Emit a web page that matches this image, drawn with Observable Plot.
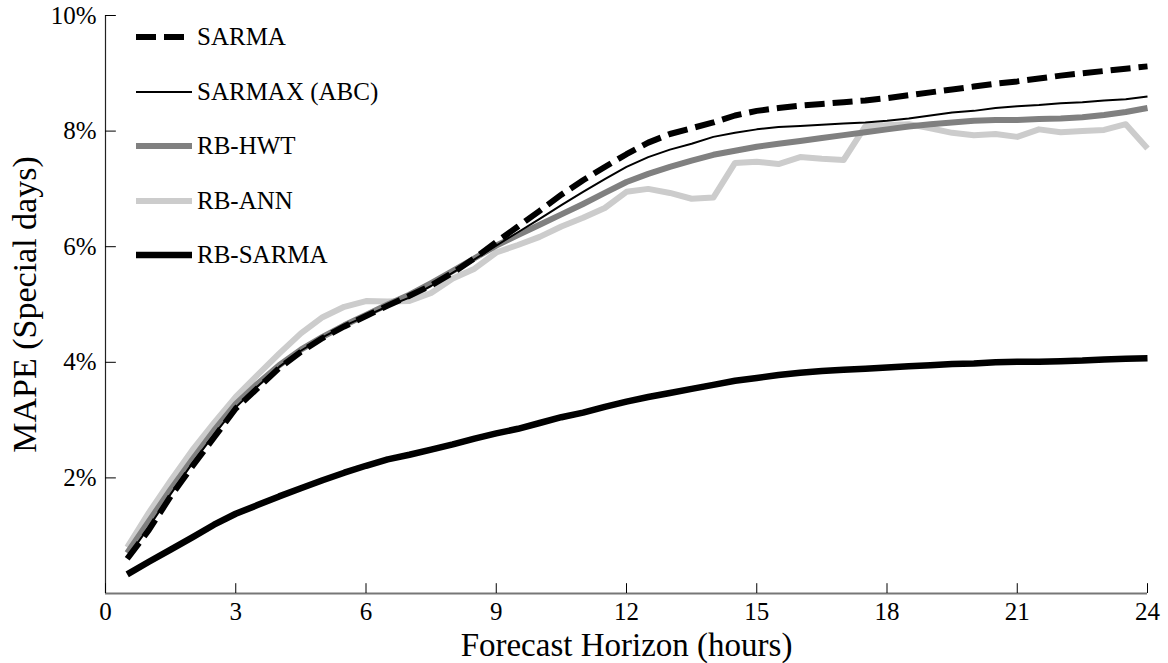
<!DOCTYPE html>
<html><head><meta charset="utf-8">
<script src="https://cdn.jsdelivr.net/npm/d3@7"></script>
<script src="https://cdn.jsdelivr.net/npm/@observablehq/plot@0.6"></script>
<style>
body{margin:0;background:#fff;}
#wrap{position:relative;width:1168px;height:663px;font-family:"Liberation Serif","Times New Roman",serif;}
#legend{position:absolute;left:136px;top:0;}
.item{position:absolute;left:0;height:30px;display:flex;align-items:center;white-space:nowrap;font-size:25px;color:#000;}
.item svg{margin-right:5px;}
</style></head><body><div id="wrap"><div id="chart"></div><div id="legend"></div></div>
<script>
// Forecast horizon (hours)
const hours = [0.5,1,1.5,2,2.5,3,3.5,4,4.5,5,5.5,6,6.5,7,7.5,8,8.5,9,9.5,10,10.5,11,11.5,12,12.5,13,13.5,14,14.5,15,15.5,16,16.5,17,17.5,18,18.5,19,19.5,20,20.5,21,21.5,22,22.5,23,23.5,24];
// MAPE (%) per series
const sarma = [0.60,1.10,1.68,2.20,2.70,3.20,3.55,3.90,4.18,4.42,4.62,4.80,4.98,5.15,5.33,5.55,5.80,6.08,6.35,6.62,6.90,7.15,7.38,7.60,7.80,7.95,8.05,8.15,8.27,8.35,8.40,8.44,8.47,8.50,8.53,8.57,8.62,8.67,8.72,8.77,8.82,8.86,8.91,8.96,9.00,9.04,9.08,9.12];
const sarmax = [0.62,1.15,1.72,2.25,2.75,3.22,3.58,3.92,4.20,4.43,4.63,4.80,4.97,5.12,5.32,5.55,5.78,6.02,6.25,6.48,6.72,6.95,7.17,7.38,7.55,7.68,7.78,7.90,7.97,8.03,8.07,8.09,8.11,8.13,8.15,8.18,8.22,8.27,8.32,8.35,8.40,8.43,8.45,8.48,8.50,8.53,8.55,8.60];
const rbHwt = [0.70,1.25,1.80,2.32,2.82,3.28,3.63,3.95,4.22,4.44,4.64,4.82,5.00,5.17,5.37,5.58,5.80,6.02,6.20,6.38,6.56,6.74,6.93,7.12,7.26,7.38,7.49,7.59,7.66,7.73,7.78,7.83,7.88,7.93,7.98,8.03,8.08,8.12,8.15,8.18,8.19,8.19,8.21,8.22,8.24,8.28,8.33,8.40];
const rbAnn = [0.80,1.40,1.95,2.48,2.95,3.40,3.78,4.15,4.50,4.78,4.96,5.06,5.05,5.06,5.20,5.45,5.62,5.90,6.03,6.17,6.35,6.50,6.67,6.95,7.00,6.93,6.83,6.85,7.45,7.47,7.43,7.55,7.52,7.50,8.08,8.10,8.12,8.05,7.97,7.93,7.95,7.90,8.03,7.98,8.00,8.02,8.12,7.70];
const rbSarma = [0.33,0.55,0.76,0.97,1.19,1.38,1.53,1.68,1.82,1.96,2.09,2.21,2.32,2.40,2.49,2.58,2.68,2.77,2.85,2.95,3.05,3.13,3.23,3.32,3.40,3.47,3.54,3.61,3.68,3.73,3.78,3.82,3.85,3.87,3.89,3.91,3.93,3.95,3.97,3.98,4.00,4.01,4.01,4.02,4.03,4.05,4.06,4.07];

const seriesNames = ["SARMA","SARMAX (ABC)","RB-HWT","RB-ANN","RB-SARMA"];
const seriesValues = [sarma, sarmax, rbHwt, rbAnn, rbSarma];
const xTicks = [0,3,6,9,12,15,18,21,24];
const yTicks = [2,4,6,8,10];
const xTitle = "Forecast Horizon (hours)";
const yTitle = "MAPE (Special days)";

const styles = {
  "SARMA": {stroke:"#000", width:6, dash:"20,8"},
  "SARMAX (ABC)": {stroke:"#000", width:2, dash:null},
  "RB-HWT": {stroke:"#808080", width:6, dash:null},
  "RB-ANN": {stroke:"#cccccc", width:6, dash:null},
  "RB-SARMA": {stroke:"#000", width:6.5, dash:null}
};
const drawOrder = ["RB-ANN","RB-HWT","SARMAX (ABC)","SARMA","RB-SARMA"];

const rows = name => hours.map((h,i)=>({h, v: seriesValues[seriesNames.indexOf(name)][i]}));

const lineMarks = drawOrder.map(name => Plot.lineY(rows(name), {
  x:"h", y:"v", stroke: styles[name].stroke, strokeWidth: styles[name].width,
  strokeDasharray: styles[name].dash, strokeLinejoin:"round", strokeLinecap:"butt"
}));

const chart = Plot.plot({
  width:1168, height:663,
  marginLeft:105, marginRight:21, marginTop:15, marginBottom:70,
  style:{fontFamily:'"Liberation Serif","Times New Roman",serif', background:"#fff", color:"#000"},
  x:{domain:[0,24]},
  y:{domain:[0,10]},
  marks:[
    Plot.ruleY([0], {stroke:"#777", strokeWidth:2}),
    Plot.ruleX([0], {stroke:"#222", strokeWidth:1.2}),
    Plot.ruleX(xTicks, {x:d=>d, y1:0, y2:0.17, stroke:"#000", strokeWidth:1}),
    Plot.ruleY(yTicks, {y:d=>d, x1:0, x2:0.25, stroke:"#000", strokeWidth:1}),
    ...lineMarks,
    Plot.axisX({ticks:xTicks, tickSize:0, tickPadding:9, fontSize:25, label:null, tickFormat:d=>String(d)}),
    Plot.axisY({ticks:yTicks, tickSize:0, tickPadding:9, fontSize:25, label:null, tickFormat:d=>d+"%"}),
    Plot.text([xTitle], {frameAnchor:"bottom", dy:52, lineAnchor:"middle", textAnchor:"middle", fontSize:33, text:d=>d}),
    Plot.text([yTitle], {frameAnchor:"left", dx:-80, rotate:-90, lineAnchor:"middle", textAnchor:"middle", fontSize:34, text:d=>d})
  ]
});
document.getElementById("chart").appendChild(chart);

const legend = document.getElementById("legend");
seriesNames.forEach((name,i)=>{
  const s = styles[name];
  const div = document.createElement("div");
  div.className = "item";
  div.style.top = (37 + i*54.5 - 15) + "px";
  div.innerHTML = `<svg width="56" height="30"><line x1="0" x2="56" y1="15" y2="15" stroke="${s.stroke}" stroke-width="${s.width}" ${s.dash?`stroke-dasharray="${s.dash}"`:""}/></svg><span>${name}</span>`;
  legend.appendChild(div);
});
</script></body></html>
